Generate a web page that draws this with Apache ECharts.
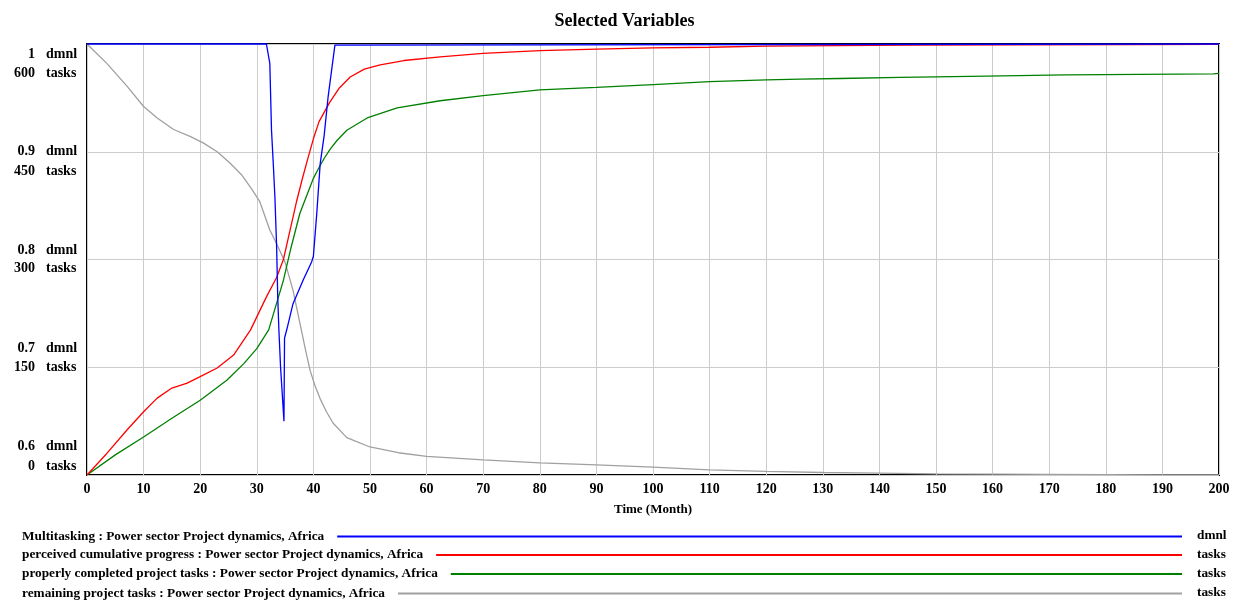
<!DOCTYPE html>
<html>
<head>
<meta charset="utf-8">
<script src="https://cdn.jsdelivr.net/npm/echarts@6/dist/echarts.min.js"></script>
<style>
html,body{margin:0;padding:0;background:#fff;}
#chart{width:1238px;height:601px;}
</style>
</head>
<body>
<div id="chart"></div>
<script>
// ---------- DATA ----------
const chartTitle = 'Selected Variables';
const xAxisName = 'Time (Month)';
const seriesNames = [
  'Multitasking : Power sector Project dynamics, Africa',
  'perceived cumulative progress : Power sector Project dynamics, Africa',
  'properly completed project tasks : Power sector Project dynamics, Africa',
  'remaining project tasks : Power sector Project dynamics, Africa'
];
const units = ['dmnl', 'tasks', 'tasks', 'tasks'];
const seriesColors = ['#0000ff', '#ff0000', '#008000', '#a0a0a0'];

const taskTicks = [0, 150, 300, 450, 600];
const dmnlTicks = ['0.6', '0.7', '0.8', '0.9', '1'];

// Multitasking (dmnl)
const multiT = [0, 31.7, 32.3, 32.6, 32.9, 33.2, 33.5, 33.7, 33.9, 34.2, 34.5, 34.8, 34.9, 35.3, 36.4, 38.2, 39.7, 40.0, 40.6, 41.2, 41.9, 42.6, 43.8, 44, 200];
const multiV = [1, 1, 0.982, 0.920, 0.890, 0.858, 0.812, 0.765, 0.735, 0.700, 0.699, 0.650, 0.727, 0.735, 0.759, 0.781, 0.798, 0.803, 0.843, 0.889, 0.915, 0.951, 0.999, 1, 1];

// perceived cumulative progress (tasks)
const percT = [0, 3.5, 7.1, 10, 12.4, 15, 17.7, 20, 23, 25.9, 28.9, 31.7, 33.5, 34.7, 36, 37, 38, 39, 40, 41, 42.9, 44.5, 46.5, 49, 51.8, 56, 62.4, 70, 80, 90, 100, 110, 120, 126, 145, 185, 200];
const percV = [0, 30, 63, 88, 107, 121, 128, 137, 149, 167, 202, 248, 275, 300, 345, 380, 411, 440, 468, 492, 519, 538, 554, 565, 571, 577, 582, 587, 590.7, 593, 594.5, 595.5, 597, 597.5, 598.5, 599.2, 599.6];

// properly completed project tasks (tasks)
const compT = [0, 5, 10, 15, 20, 24.7, 27.7, 30, 32.1, 34.7, 36, 37.6, 40, 41, 42, 43, 44.2, 45.9, 49.5, 54.8, 62.4, 70, 80, 90, 100, 110, 120, 126, 133, 143.6, 156, 173, 199, 200];
const compV = [0, 28, 53, 79, 104, 132, 155, 176, 202, 271, 315, 364, 413, 428, 442, 454, 466, 480, 497, 511, 521, 528, 536, 539.5, 543.5, 547.5, 550, 551, 552, 553.5, 555, 557, 558.5, 559];

// remaining project tasks (tasks)
const remT = [0, 3.5, 7.1, 10, 12.4, 15.3, 18.3, 20.6, 23, 25.3, 27.3, 29.2, 30.5, 32.3, 33.5, 35, 36.4, 37.6, 38.5, 39.4, 40.3, 41.2, 42.3, 43.5, 45.9, 50, 55, 60, 70, 80, 90, 100, 110, 120, 130, 140, 150, 160, 170, 180, 190, 200];
const remV = [600, 573, 541, 513, 497, 481, 471, 462, 450, 434, 418, 397, 381, 341, 322, 296, 257, 212, 178, 146, 124, 106, 88, 72, 52, 39, 31, 26, 21, 17, 14, 11, 7, 5, 3.5, 2.5, 1.5, 1.1, 0.8, 0.5, 0.3, 0.2];

// ---------- CHART ----------
const FONT = 'Liberation Serif';
const chart = echarts.init(document.getElementById('chart'), null, {renderer: 'canvas'});

const pairs = (T, V) => T.map((t, i) => [t, V[i]]);

// text measurement
const ctx = document.createElement('canvas').getContext('2d');
function textW(str, size) {
  ctx.font = 'bold ' + size + 'px "' + FONT + '"';
  return ctx.measureText(str).width;
}

// vertical shift (px, + = down) of each tick label relative to its grid line, bottom to top
const dmnlShift = [-28.3, -19, -9.5, 0, 10];
const taskShift = [-9, 0, 8.5, 20, 29.3];
const LBL_FS = 14;
const NUM_RIGHT = 35;   // right edge of the numbers (px from label start)
const UNIT_GAP = 11;
function makeRich(shifts, labels, prefix) {
  const rich = {};
  shifts.forEach((s, i) => {
    const pt = s > 0 ? 2 * s : 0;
    const pb = s < 0 ? -2 * s : 0;
    const pl = Math.max(0, NUM_RIGHT - textW(String(labels[i]), LBL_FS));
    const base = {fontFamily: FONT, fontWeight: 'bold', fontSize: LBL_FS, color: '#000'};
    rich[prefix + 'n' + i] = Object.assign({}, base, {padding: [pt, 0, pb, pl]});
    rich[prefix + 'u' + i] = Object.assign({}, base, {padding: [pt, 0, pb, UNIT_GAP]});
  });
  return rich;
}

// legend geometry
const LEG_FS = 13.3;
const legendRowY = [537, 555.5, 574.5, 594];
const lineEnd = 1182;
const legendLeft = 22;
const legends = seriesNames.map((name, i) => {
  const w = textW(name, LEG_FS);
  return {
    data: [name],
    left: legendLeft,
    top: legendRowY[i] - 7,
    padding: 0,
    align: 'right',
    icon: 'rect',
    itemWidth: Math.max(20, lineEnd - (legendLeft + w + 13)),
    itemHeight: 2,
    selectedMode: false,
    textStyle: {fontFamily: FONT, fontWeight: 'bold', fontSize: LEG_FS, color: '#000', padding: [0, 8, 0, 0]}
  };
});

const TITLE_FS = 18;
const titleCenterX = 624.5;

const option = {
  animation: false,
  backgroundColor: '#fff',
  title: {
    text: chartTitle,
    left: titleCenterX - textW(chartTitle, TITLE_FS) / 2,
    top: 12,
    padding: 0,
    textStyle: {fontFamily: FONT, fontWeight: 'bold', fontSize: TITLE_FS, color: '#000'}
  },
  legend: legends,
  grid: {
    left: 87, right: 19, top: 44, bottom: 126,
    outerBoundsMode: 'none',
    containLabel: false,
    show: true, borderColor: '#000', borderWidth: 2, backgroundColor: 'transparent'
  },
  xAxis: {
    type: 'value', min: 0, max: 200, interval: 10,
    name: xAxisName, nameLocation: 'middle', nameGap: 28,
    nameTextStyle: {fontFamily: FONT, fontWeight: 'bold', fontSize: 13, color: '#000'},
    axisLine: {show: false}, axisTick: {show: false},
    axisLabel: {fontFamily: FONT, fontWeight: 'bold', fontSize: LBL_FS, color: '#000', margin: 7},
    splitLine: {show: true, lineStyle: {color: '#cccccc', width: 1}}
  },
  yAxis: [
    {
      type: 'value', position: 'left', min: 0, max: 600, interval: 150,
      axisLine: {show: false}, axisTick: {show: false},
      axisLabel: {
        align: 'left', margin: 87,
        formatter: function (value) {
          const i = taskTicks.indexOf(value);
          if (i < 0) return '';
          return '{tn' + i + '|' + taskTicks[i] + '}{tu' + i + '|tasks}';
        },
        rich: makeRich(taskShift, taskTicks, 't')
      },
      splitLine: {show: true, lineStyle: {color: '#cccccc', width: 1}}
    },
    {
      type: 'value', position: 'left', min: 0.6, max: 1, interval: 0.1,
      axisLine: {show: false}, axisTick: {show: false}, splitLine: {show: false},
      axisLabel: {
        align: 'left', margin: 87,
        formatter: function (value) {
          const i = Math.round((value - 0.6) * 10);
          if (i < 0 || i >= dmnlTicks.length) return '';
          return '{dn' + i + '|' + dmnlTicks[i] + '}{du' + i + '|dmnl}';
        },
        rich: makeRich(dmnlShift, dmnlTicks, 'd')
      }
    }
  ],
  graphic: units.map((u, i) => ({
    type: 'text', left: 1197, top: legendRowY[i] - 7.5,
    style: {text: u, fontFamily: FONT, fontWeight: 'bold', fontSize: LEG_FS, fill: '#000'}
  })),
  series: [
    {name: seriesNames[0], type: 'line', yAxisIndex: 1, data: pairs(multiT, multiV), showSymbol: false, clip: false, z: 5,
      color: seriesColors[0], lineStyle: {width: 1.3, color: seriesColors[0]}},
    {name: seriesNames[1], type: 'line', data: pairs(percT, percV), showSymbol: false, z: 4,
      color: seriesColors[1], lineStyle: {width: 1.3, color: seriesColors[1]}},
    {name: seriesNames[2], type: 'line', data: pairs(compT, compV), showSymbol: false, z: 3,
      color: seriesColors[2], lineStyle: {width: 1.3, color: seriesColors[2]}},
    {name: seriesNames[3], type: 'line', data: pairs(remT, remV), showSymbol: false, z: 2,
      color: seriesColors[3], lineStyle: {width: 1.3, color: seriesColors[3]}}
  ]
};
chart.setOption(option);
</script>
</body>
</html>
